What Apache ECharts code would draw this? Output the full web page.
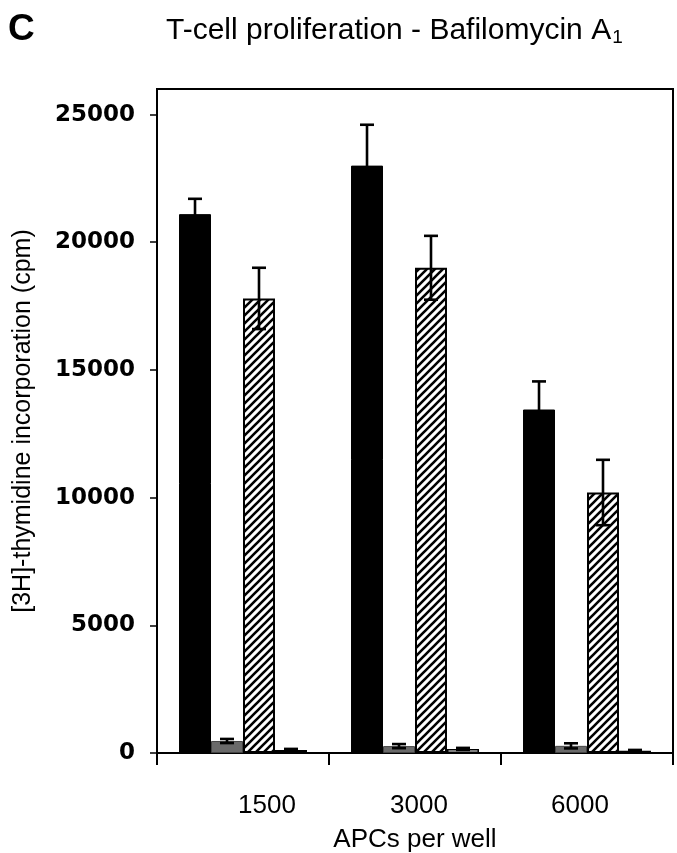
<!DOCTYPE html>
<html>
<head>
<meta charset="utf-8" />
<script src="https://cdn.jsdelivr.net/npm/echarts@6/dist/echarts.min.js"></script>
<title>T-cell proliferation</title>
<style>
  html, body { margin: 0; padding: 0; background: #fff; }
</style>
</head>
<body>
<div id="main" style="width:677px; height:853px;"></div>
<script type="text/javascript">
    // data
    let categories = ['1500', '3000', '6000'];
    let yTicks = [0, 5000, 10000, 15000, 20000, 25000];

    let blackMean = [21100, 23000, 13450];
    let blackErr = [600, 1600, 1100];
    let greyMean = [470, 270, 280];
    let greyErr = [80, 80, 100];
    let hatchMean = [17800, 19000, 10200];
    let hatchErr = [1200, 1250, 1280];
    let whiteMean = [120, 160, 90];
    let whiteErr = [40, 40, 30];

    let means = [blackMean, greyMean, hatchMean, whiteMean];
    let errs = [blackErr, greyErr, hatchErr, whiteErr];

    const FONT = "'Liberation Sans', Arial, sans-serif";
    const CAT_GAP = 0.256;

    // diagonal hatch pattern
    function hatch() {
        let c = document.createElement('canvas');
        c.width = 8; c.height = 8;
        let ctx = c.getContext('2d');
        ctx.fillStyle = '#fff';
        ctx.fillRect(0, 0, 8, 8);
        ctx.strokeStyle = '#000';
        ctx.lineWidth = 2.6;
        ctx.beginPath();
        ctx.moveTo(-1, 9); ctx.lineTo(9, -1);
        ctx.moveTo(-5, 5); ctx.lineTo(5, -5);
        ctx.moveTo(3, 13); ctx.lineTo(13, 3);
        ctx.stroke();
        return c;
    }

    let errData = [];
    means.forEach(function (m, s) {
        m.forEach(function (v, i) {
            errData.push([i, v - errs[s][i], v + errs[s][i], s]);
        });
    });

    function renderErr(params, api) {
        let cat = api.value(0);
        let s = api.value(3);
        let band = api.size([1, 0])[0];
        let bw = band * (1 - CAT_GAP) / 4;
        let x = api.coord([cat, 0])[0] + (s - 1.5) * bw;
        let lo = api.coord([cat, api.value(1)])[1];
        let hi = api.coord([cat, api.value(2)])[1];
        let cap = 7;
        let st = { stroke: '#000', lineWidth: 2.6 };
        return {
            type: 'group',
            children: [
                { type: 'line', shape: { x1: x, y1: lo, x2: x, y2: hi }, style: st },
                { type: 'line', shape: { x1: x - cap, y1: hi, x2: x + cap, y2: hi }, style: st },
                { type: 'line', shape: { x1: x - cap, y1: lo, x2: x + cap, y2: lo }, style: st }
            ]
        };
    }

    let myChart = echarts.init(document.getElementById('main'));

    let barBase = {
        type: 'bar',
        barGap: '0%',
        barCategoryGap: (CAT_GAP * 100) + '%',
        animation: false
    };

    option = {
        backgroundColor: '#fff',
        animation: false,
        title: [{
            text: 'C',
            left: 3,
            top: 6,
            textStyle: { fontFamily: FONT, fontSize: 37, fontWeight: 'bold', color: '#000' }
        }, {
            text: '{a|T-cell proliferation - Bafilomycin A}{s|1}',
            left: 161,
            top: 8,
            textStyle: {
                fontWeight: 'normal',
                rich: {
                    a: { fontFamily: FONT, fontSize: 30, fontWeight: 'normal', color: '#000', lineHeight: 36 },
                    s: { fontFamily: FONT, fontSize: 19, fontWeight: 'normal', color: '#000', lineHeight: 36, padding: [14, 0, 0, 1] }
                }
            }
        }],
        grid: {
            left: 157, right: 4, top: 89, bottom: 100,
            outerBoundsMode: 'none',
            containLabel: false,
            show: true, borderColor: '#000', borderWidth: 2
        },
        xAxis: {
            type: 'category',
            data: [
                { value: categories[0], textStyle: { padding: [0, 0, 0, 48] } },
                { value: categories[1], textStyle: { padding: [0, 0, 0, 8] } },
                { value: categories[2], textStyle: { padding: [0, 14, 0, 0] } }
            ],
            name: 'APCs per well',
            nameLocation: 'middle',
            nameGap: 74,
            nameTextStyle: { fontFamily: FONT, fontSize: 26, color: '#000' },
            axisLine: { lineStyle: { color: '#000', width: 2 } },
            axisTick: { show: true, length: 12, lineStyle: { color: '#000', width: 2 } },
            axisLabel: { fontFamily: FONT, fontSize: 26, color: '#000', margin: 40 }
        },
        yAxis: {
            type: 'value',
            min: 0,
            max: 26000,
            interval: 5000,
            name: '[3H]-thymidine incorporation (cpm)',
            nameLocation: 'middle',
            nameGap: 121,
            nameTextStyle: { fontFamily: FONT, fontSize: 25, color: '#000' },
            splitLine: { show: false },
            axisLine: { show: true, lineStyle: { color: '#000', width: 2 } },
            axisTick: { show: true, length: 7, customValues: yTicks, lineStyle: { color: '#000', width: 1.5 } },
            axisLabel: {
                customValues: yTicks,
                formatter: function (v) { return String(v); },
                fontFamily: "'DejaVu Sans', sans-serif",
                fontWeight: 'bold',
                fontSize: 23,
                color: '#000',
                margin: 22
            }
        },
        series: [
            Object.assign({}, barBase, {
                name: 'black', data: blackMean,
                itemStyle: { color: '#000', borderColor: '#000', borderWidth: 1 }
            }),
            Object.assign({}, barBase, {
                name: 'grey', data: greyMean,
                itemStyle: { color: '#6a6a6a', borderColor: '#444', borderWidth: 1 }
            }),
            Object.assign({}, barBase, {
                name: 'hatched', data: hatchMean,
                itemStyle: { color: { image: hatch(), repeat: 'repeat' }, borderColor: '#000', borderWidth: 2 }
            }),
            Object.assign({}, barBase, {
                name: 'white', data: whiteMean,
                itemStyle: { color: '#fff', borderColor: '#000', borderWidth: 1.5 }
            }),
            {
                type: 'custom',
                name: 'err',
                renderItem: renderErr,
                data: errData,
                encode: { x: 0, y: [1, 2] },
                z: 10,
                animation: false
            }
        ]
    };
    myChart.setOption(option);
</script>
</body>
</html>
